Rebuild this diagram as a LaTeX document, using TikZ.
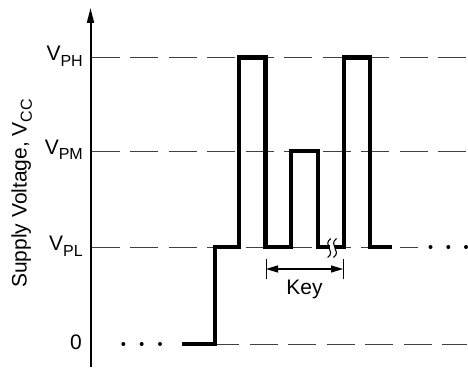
\documentclass[tikz,border=0pt]{standalone}
\usepackage{fontspec}
\setmainfont{Liberation Sans}
\usetikzlibrary{arrows.meta}
\newcommand\vsub[2]{#1\raisebox{-5.5pt}{\fontsize{16}{16}\selectfont #2}}
\tikzset{
  gridline/.style={line width=0.9pt, black!75, dash pattern=on 28pt off 10.5pt},
  wave/.style={line width=4.5pt, line join=miter},
  lbl/.style={anchor=base east, inner sep=0pt, font=\fontsize{21}{21}\selectfont},
  dotmark/.style={fill=black, draw=none},
  tick/.style={line width=1pt},
  squig/.style={line width=1.1pt}
}
\begin{document}
\begin{tikzpicture}[x=1pt,y=1pt]
\useasboundingbox (0,0) rectangle (468,367);
% levels: VPH 309.5, VPM 216, VPL 120, 0 23
\draw[gridline] (91.5,309.5) -- (467,309.5);
\draw[gridline] (91.5,216) -- (467,216);
\draw[gridline] (91.5,120) -- (418,120);
\draw[gridline, dash phase=6pt] (217,23) -- (467,23);
% axis
\coordinate (ax0) at (90.5,0);
\coordinate (ax1) at (90.5,359);
\draw[line width=2pt, -{Triangle[length=15pt,width=7pt]}] (ax0) -- (ax1);
% labels
\node[lbl] (lph) at (83,306) {\vsub{V}{PH}};
\node[lbl] (lpm) at (83,212.5) {\vsub{V}{PM}};
\node[lbl] (lpl) at (83,116.5) {\vsub{V}{PL}};
\node[lbl] (l0) at (82,18) {0};
\node[anchor=base west, inner sep=0pt, rotate=90, font=\fontsize{21}{21}\selectfont] (ylab) at (26.5,79) {Supply Voltage, \vsub{V}{CC}};
% dots
\foreach \x in {123.3,141.7,160} \fill[dotmark] (\x,23) circle (2pt);
\foreach \x in {430.5,448.3,466} \fill[dotmark] (\x,120) circle (2pt);
% waveform
\draw[wave] (182,23) -- (215,23) -- (215,120) -- (239,120) -- (239,309.5) -- (265.5,309.5)
  -- (265.5,120) -- (291,120) -- (291,216) -- (318,216) -- (318,120) -- (344,120)
  -- (344,309.5) -- (370,309.5) -- (370,120) -- (392,120);
% break
\fill[white] (329.5,117.2) rectangle (335.2,122.8);
\foreach \x in {329.2,335}
  \draw[squig] (\x+1.5,128.5) .. controls (\x-3,125) and (\x-1.3,122) .. (\x,119)
     .. controls (\x+1.3,116) and (\x+3,113) .. (\x-1.5,109.5);
% key
\coordinate (k1) at (266,98);
\coordinate (k2) at (343,98);
\draw[tick] (266,88) -- (266,108);
\draw[tick] (343,88) -- (343,108);
\draw[line width=1.1pt, {Triangle[length=12pt,width=7pt]}-{Triangle[length=12pt,width=7pt]}] (k1) -- (k2);
\node[anchor=base, inner sep=0pt, font=\fontsize{21}{21}\selectfont] (key) at (304.5,73) {Key};
\end{tikzpicture}
\end{document}
